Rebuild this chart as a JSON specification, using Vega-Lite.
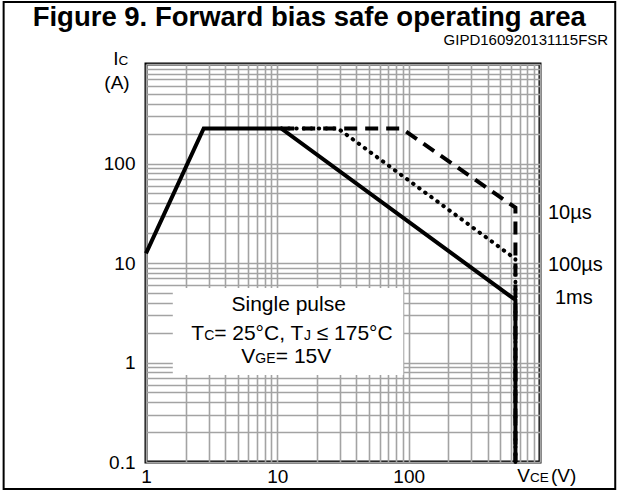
{
  "$schema": "https://vega.github.io/schema/vega-lite/v6.json",
  "width": 394,
  "height": 398,
  "padding": {"left": 2, "top": 1, "right": 2, "bottom": 2},
  "background": "white",
  "datasets": {
    "curves": [
      {"series": "10us", "i": 1, "vce": 10.7, "ic": 225},
      {"series": "10us", "i": 2, "vce": 88.5, "ic": 225},
      {"series": "10us", "i": 3, "vce": 650, "ic": 36},
      {"series": "10us", "i": 4, "vce": 650, "ic": 0.1},
      {"series": "100us", "i": 1, "vce": 10.7, "ic": 225},
      {"series": "100us", "i": 2, "vce": 29, "ic": 225},
      {"series": "100us", "i": 3, "vce": 650, "ic": 11},
      {"series": "100us", "i": 4, "vce": 650, "ic": 0.1},
      {"series": "1ms", "i": 1, "vce": 1, "ic": 12.5},
      {"series": "1ms", "i": 2, "vce": 2.75, "ic": 225},
      {"series": "1ms", "i": 3, "vce": 10.7, "ic": 225},
      {"series": "1ms", "i": 4, "vce": 650, "ic": 4.25},
      {"series": "1ms", "i": 5, "vce": 650, "ic": 0.1}
    ],
    "box": [{"vce": 1.6, "vce2": 91, "ic": 0.75, "ic2": 5.6}],
    "boxCenter": [
      {"text": "Single pulse", "vce": 12.2, "ic": 3.78}
    ],
    "boxBig": [
      {"text": "T", "vce": 2.206, "ic": 1.683},
      {"text": "= 25°C, T", "vce": 3.304, "ic": 1.683},
      {"text": "≤ 175°C", "vce": 19.95, "ic": 1.683},
      {"text": "V", "vce": 5.31, "ic": 0.989},
      {"text": "= 15V", "vce": 9.74, "ic": 0.989}
    ],
    "boxSmall": [
      {"text": "C", "vce": 2.772, "ic": 1.683},
      {"text": "J", "vce": 15.93, "ic": 1.683},
      {"text": "GE", "vce": 6.79, "ic": 0.989}
    ],
    "curveLabels": [
      {"text": "10µs", "vce": 1150, "ic": 32},
      {"text": "100µs", "vce": 1150, "ic": 9.6},
      {"text": "1ms", "vce": 1300, "ic": 4.45}
    ],
    "bigRight": [
      {"text": "I", "vce": 0.617, "ic": 977},
      {"text": "V", "vce": 839, "ic": 0.0629}
    ],
    "smallLeft": [
      {"text": "C", "vce": 0.617, "ic": 977},
      {"text": "CE", "vce": 839, "ic": 0.0629}
    ],
    "bigLeft": [
      {"text": "(V)", "vce": 1213, "ic": 0.0629}
    ],
    "bigCenter": [
      {"text": "(A)", "vce": 0.601, "ic": 561}
    ],
    "title": [{"text": "Figure 9. Forward bias safe operating area", "vce": 17.5, "ic": 2900}],
    "code": [{"text": "GIPD160920131115FSR", "vce": 3304, "ic": 1742}]
  },
  "layer": [
    {
      "data": {"name": "box"},
      "mark": {"type": "rect", "fill": "white", "stroke": null},
      "encoding": {
        "x": {"field": "vce", "type": "quantitative", "scale": {"type": "log", "domain": [1, 1000], "nice": false},
          "axis": {"values": [1,2,3,4,5,6,7,8,9,10,20,30,40,50,60,70,80,90,100,200,300,400,500,600,700,800,900,1000],
            "grid": true, "ticks": false, "tickSize": 0, "domain": false, "title": null, "format": "~g",
            "labelExpr": "indexof([1,10,100], datum.value) >= 0 ? datum.label : ''",
            "labelFlush": false, "labelOverlap": false, "labelPadding": 5, "labelFontSize": 19, "labelColor": "black",
            "gridColor": "#a3a3a3", "gridWidth": 1.6}},
        "x2": {"field": "vce2"},
        "y": {"field": "ic", "type": "quantitative", "scale": {"type": "log", "domain": [0.1, 1000], "nice": false},
          "axis": {"values": [0.1,0.2,0.3,0.4,0.5,0.6,0.7,0.8,0.9,1,2,3,4,5,6,7,8,9,10,20,30,40,50,60,70,80,90,100,200,300,400,500,600,700,800,900,1000],
            "grid": true, "ticks": false, "tickSize": 0, "domain": false, "title": null, "format": "~g",
            "labelExpr": "indexof([0.1,1,10,100], datum.value) >= 0 ? datum.label : ''",
            "labelFlush": false, "labelOverlap": false, "labelPadding": 11, "labelFontSize": 19, "labelColor": "black",
            "gridColor": "#a3a3a3", "gridWidth": 1.6}},
        "y2": {"field": "ic2"}
      }
    },
    {
      "data": {"name": "curves"},
      "transform": [{"filter": "datum.series === '10us'"}],
      "mark": {"type": "line", "color": "black", "strokeWidth": 4, "strokeDash": [13, 8], "strokeCap": "butt"},
      "encoding": {
        "x": {"field": "vce", "type": "quantitative"},
        "y": {"field": "ic", "type": "quantitative"},
        "order": {"field": "i"}
      }
    },
    {
      "data": {"name": "curves"},
      "transform": [{"filter": "datum.series === '100us'"}],
      "mark": {"type": "line", "color": "black", "strokeWidth": 4, "strokeDash": [0.5, 7], "strokeCap": "round"},
      "encoding": {
        "x": {"field": "vce", "type": "quantitative"},
        "y": {"field": "ic", "type": "quantitative"},
        "order": {"field": "i"}
      }
    },
    {
      "data": {"name": "curves"},
      "transform": [{"filter": "datum.series === '1ms'"}],
      "mark": {"type": "line", "color": "black", "strokeWidth": 4, "strokeJoin": "miter"},
      "encoding": {
        "x": {"field": "vce", "type": "quantitative"},
        "y": {"field": "ic", "type": "quantitative"},
        "order": {"field": "i"}
      }
    },
    {
      "data": {"name": "boxCenter"},
      "mark": {"type": "text", "fontSize": 21, "align": "center", "baseline": "middle", "color": "black"},
      "encoding": {
        "x": {"field": "vce", "type": "quantitative"},
        "y": {"field": "ic", "type": "quantitative"},
        "text": {"field": "text"}
      }
    },
    {
      "data": {"name": "boxBig"},
      "mark": {"type": "text", "fontSize": 21, "align": "left", "baseline": "alphabetic", "color": "black"},
      "encoding": {
        "x": {"field": "vce", "type": "quantitative"},
        "y": {"field": "ic", "type": "quantitative"},
        "text": {"field": "text"}
      }
    },
    {
      "data": {"name": "boxSmall"},
      "mark": {"type": "text", "fontSize": 14, "align": "left", "baseline": "alphabetic", "color": "black"},
      "encoding": {
        "x": {"field": "vce", "type": "quantitative"},
        "y": {"field": "ic", "type": "quantitative"},
        "text": {"field": "text"}
      }
    },
    {
      "data": {"name": "curveLabels"},
      "mark": {"type": "text", "fontSize": 20, "align": "left", "baseline": "middle", "color": "black"},
      "encoding": {
        "x": {"field": "vce", "type": "quantitative"},
        "y": {"field": "ic", "type": "quantitative"},
        "text": {"field": "text"}
      }
    },
    {
      "data": {"name": "bigRight"},
      "mark": {"type": "text", "fontSize": 19, "align": "right", "baseline": "alphabetic", "color": "black"},
      "encoding": {
        "x": {"field": "vce", "type": "quantitative"},
        "y": {"field": "ic", "type": "quantitative"},
        "text": {"field": "text"}
      }
    },
    {
      "data": {"name": "smallLeft"},
      "mark": {"type": "text", "fontSize": 13.5, "align": "left", "baseline": "alphabetic", "color": "black"},
      "encoding": {
        "x": {"field": "vce", "type": "quantitative"},
        "y": {"field": "ic", "type": "quantitative"},
        "text": {"field": "text"}
      }
    },
    {
      "data": {"name": "bigLeft"},
      "mark": {"type": "text", "fontSize": 19, "align": "left", "baseline": "alphabetic", "color": "black"},
      "encoding": {
        "x": {"field": "vce", "type": "quantitative"},
        "y": {"field": "ic", "type": "quantitative"},
        "text": {"field": "text"}
      }
    },
    {
      "data": {"name": "bigCenter"},
      "mark": {"type": "text", "fontSize": 19, "align": "center", "baseline": "alphabetic", "color": "black"},
      "encoding": {
        "x": {"field": "vce", "type": "quantitative"},
        "y": {"field": "ic", "type": "quantitative"},
        "text": {"field": "text"}
      }
    },
    {
      "data": {"name": "title"},
      "mark": {"type": "text", "fontSize": 27.5, "fontWeight": "bold", "align": "center", "baseline": "middle", "color": "black"},
      "encoding": {
        "x": {"field": "vce", "type": "quantitative"},
        "y": {"field": "ic", "type": "quantitative"},
        "text": {"field": "text"}
      }
    },
    {
      "data": {"name": "code"},
      "mark": {"type": "text", "fontSize": 15, "align": "right", "baseline": "middle", "color": "black"},
      "encoding": {
        "x": {"field": "vce", "type": "quantitative"},
        "y": {"field": "ic", "type": "quantitative"},
        "text": {"field": "text"}
      }
    },
    {
      "data": {"values": [{}]},
      "mark": {"type": "rect", "filled": false, "stroke": "black", "strokeWidth": 2},
      "encoding": {
        "x": {"datum": 0.0824, "type": "quantitative"},
        "x2": {"datum": 3740},
        "y": {"datum": 4198, "type": "quantitative"},
        "y2": {"datum": 0.0536}
      }
    }
  ],
  "config": {
    "font": "Liberation Sans",
    "view": {"stroke": "black", "strokeWidth": 3},
    "axis": {"labelFont": "Liberation Sans"},
    "text": {"font": "Liberation Sans"}
  }
}
